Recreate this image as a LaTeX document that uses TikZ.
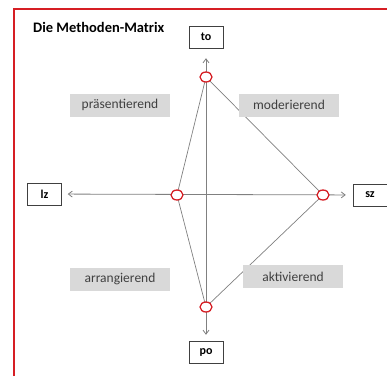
\documentclass[tikz,border=0pt]{standalone}
\usepackage{fontspec}
\setmainfont{Carlito}
\usetikzlibrary{arrows.meta,shapes.geometric,backgrounds}

\definecolor{rahmenrot}{RGB}{214,30,36}
\definecolor{achsgrau}{RGB}{128,128,128}
\definecolor{feldgrau}{RGB}{217,217,217}
\definecolor{textgrau}{RGB}{64,64,64}

\begin{document}
\begin{tikzpicture}[
    x=1pt, y=-1pt,
    >={Straight Barb[length=4pt,width=6pt]},
    pol/.style={draw=black!75, fill=white, font=\fontsize{12}{14}\selectfont\bfseries, minimum width=34pt, minimum height=22pt, inner sep=0pt},
    stil/.style={fill=feldgrau, text=textgrau, font=\fontsize{13.5}{16}\selectfont, minimum width=100pt, minimum height=23pt, inner sep=0pt},
    punkt/.style={ellipse, draw=rahmenrot, fill=white, line width=1.3pt, minimum width=12pt, minimum height=10pt, inner sep=0pt},
    achse/.style={draw=achsgrau, line width=0.8pt},
    kante/.style={draw=achsgrau, line width=0.7pt}
]
\useasboundingbox (0,0) rectangle (387,376);
% Rahmen
\draw[rahmenrot, line width=1.2pt] (14,376) -- (14,9) -- (387,9);
\node[anchor=west, inner sep=0pt, font=\fontsize{14.5}{17}\selectfont\bfseries] (titel) at (33,27) {Die Methoden-Matrix};

% Pole
\node[pol] (to) at (206,37) {to};
\node[pol] (po) at (206,352) {po};
\node[pol] (lz) at (44.5,194) {lz};
\node[pol] (sz) at (370,195) {sz};

% Stile
\node[stil] (praes) at (120,105) {präsentierend};
\node[stil] (moder) at (289,105) {moderierend};
\node[stil] (arran) at (120,279) {arrangierend};
\node[stil] (aktiv) at (293,276.5) {aktivierend};

% Eckpunkte
\node[punkt] (oben) at (206,77) {};
\node[punkt] (links) at (177,195) {};
\node[punkt] (rechts) at (323,195) {};
\node[punkt] (unten) at (206,307) {};

\begin{scope}[on background layer]
\draw[achse, <->, shorten <=10pt, shorten >=6pt] (to) -- (po);
\draw[achse, <->, shorten <=6pt, shorten >=7pt] (lz) -- (sz);
\draw[kante] (oben.center) -- (links.center) -- (unten.center) -- (rechts.center) -- cycle;
\end{scope}
\end{tikzpicture}
\end{document}
